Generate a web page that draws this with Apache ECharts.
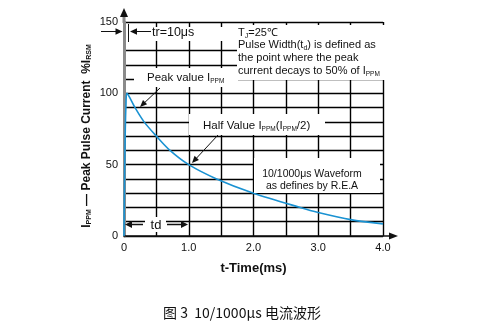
<!DOCTYPE html>
<html><head><meta charset="utf-8">
<script src="https://cdn.jsdelivr.net/npm/echarts@6/dist/echarts.min.js"></script>
<style>html,body{margin:0;padding:0;background:#fff}#c{width:477px;height:329px}</style>
</head><body><div id="c"></div>
<script>
// ---- data ----
const timeMs     = [0, 0.01, 0.02, 0.03, 0.045, 0.17, 0.31, 0.5, 0.71, 1.0, 1.43, 2.0, 2.72, 3.0, 3.5, 4.0];
const currentPct = [0, 45,   75,   91,   100,   90,   80,   70,  60,   50,  40,   30,  20,   16.5, 11.5, 8.5];
const xTickValues = [0, 1, 2, 3, 4];
const xTickLabels = ['0', '1.0', '2.0', '3.0', '4.0'];
const yTickValues = [0, 50, 100, 150];
const yTickLabels = ['0', '50', '100', '150'];

const FONT = 'Liberation Sans, Arial, sans-serif';
const chart = echarts.init(document.getElementById('c'));

function arrow(x1, y1, x2, y2, color, len, half, lw) {
  const dx = x2 - x1, dy = y2 - y1, d = Math.hypot(dx, dy);
  const ux = dx / d, uy = dy / d;
  const bx = x2 - ux * len, by = y2 - uy * len;
  return [
    { type: 'line', z: 20, shape: { x1, y1, x2: bx + ux, y2: by + uy }, style: { stroke: color, lineWidth: lw || 1 } },
    { type: 'polygon', z: 20, shape: { points: [[x2, y2], [bx - uy * half, by + ux * half], [bx + uy * half, by - ux * half]] }, style: { fill: color } }
  ];
}
function box(x, y, w, h) {
  return { type: 'rect', z: 15, shape: { x, y, width: w, height: h }, style: { fill: '#fff' } };
}
function txt(x, y, text, size, opts) {
  return Object.assign({ type: 'text', z: 25, x, y, style: Object.assign({
    text, font: (size) + 'px ' + FONT, fill: '#111', align: 'left', verticalAlign: 'middle'
  }, (opts && opts.style) || {}) }, (opts && opts.el) || {});
}
const sub = (fs) => ({ fontSize: fs, fontFamily: FONT, fill: '#111', verticalAlign: 'bottom', padding: [0, 0, -1, 0] });

const graphic = [
  // axis extensions with arrowheads
  { type: 'line', z: 20, shape: { x1: 124, y1: 23, x2: 124, y2: 16 }, style: { stroke: '#8a8a8a', lineWidth: 3 } },
  { type: 'polygon', z: 20, shape: { points: [[124, 8], [120, 17], [128, 17]] }, style: { fill: '#111' } },
  { type: 'line', z: 20, shape: { x1: 383, y1: 236, x2: 391, y2: 236 }, style: { stroke: '#111', lineWidth: 1.5 } },
  { type: 'polygon', z: 20, shape: { points: [[398, 236], [389, 232.5], [389, 239.5]] }, style: { fill: '#111' } },

  // white boxes covering grid
  box(126, 27, 111, 14),
  box(237, 25, 154, 55),
  box(134, 68, 104, 19),
  box(189, 114, 136, 21),
  box(254, 158, 126, 35),
  box(145, 217, 21, 15),

  // tr annotation
  ...arrow(101, 31.5, 122.5, 31.5, '#111', 7, 3.2),
  { type: 'line', z: 20, shape: { x1: 128.5, y1: 24, x2: 128.5, y2: 42 }, style: { stroke: '#111', lineWidth: 1 } },
  ...arrow(151, 31.5, 130, 31.5, '#111', 7, 3.2),
  txt(152, 33, 'tr=10μs', 12.5),

  // Tj box text
  {
    type: 'text', z: 25, x: 238, y: 33, style: {
      text: 'T{s|J}=25℃', font: '11px ' + FONT, fill: '#111', verticalAlign: 'middle',
      rich: { s: sub(7) }
    }
  },
  {
    type: 'text', z: 25, x: 238, y: 45, style: {
      text: 'Pulse Width(t{s|d}) is defined as', font: '11px ' + FONT, fill: '#111', verticalAlign: 'middle',
      rich: { s: sub(7) }
    }
  },
  txt(238, 58, 'the point where the peak', 11),
  {
    type: 'text', z: 25, x: 238, y: 71, style: {
      text: 'current decays to 50% of I{s|PPM}', font: '11px ' + FONT, fill: '#111', verticalAlign: 'middle',
      rich: { s: sub(6.5) }
    }
  },

  // Peak value
  {
    type: 'text', z: 25, x: 147, y: 78, style: {
      text: 'Peak value I{s|PPM}', font: '11.5px ' + FONT, fill: '#111', verticalAlign: 'middle',
      rich: { s: sub(6.5) }
    }
  },
  ...arrow(160, 88, 140, 107, '#111', 7, 3),

  // Half value
  {
    type: 'text', z: 25, x: 203, y: 126, style: {
      text: 'Half Value I{s|PPM}(I{s|PPM}/2)', font: '11.5px ' + FONT, fill: '#111', verticalAlign: 'middle',
      rich: { s: sub(6.5) }
    }
  },
  ...arrow(218, 135, 192, 163, '#111', 7, 3),

  // waveform note
  txt(312, 174, '10/1000μs Waveform', 10.5, { style: { align: 'center' } }),
  txt(312, 186, 'as defines by R.E.A', 10.5, { style: { align: 'center' } }),

  // td annotation
  ...arrow(143, 224.5, 125, 224.5, '#111', 7, 3.5, 1.5),
  ...arrow(167, 224.5, 188, 224.5, '#111', 7, 3.5, 1.5),
  txt(156, 225, 'td', 13, { style: { align: 'center' } }),

  // Y axis title
  {
    type: 'text', z: 25, x: 87, y: 136, rotation: Math.PI / 2, style: {
      text: '{b|I}{s|PPM}{b| — Peak Pulse Current  %I}{s|RSM}', fill: '#111', align: 'center', verticalAlign: 'middle',
      rich: {
        b: { fontSize: 12, fontWeight: 'bold', fontFamily: FONT, fill: '#111', verticalAlign: 'bottom' },
        s: { fontSize: 7, fontWeight: 'bold', fontFamily: FONT, fill: '#111', verticalAlign: 'bottom' }
      }
    }
  },

  // caption
  {
    type: 'text', z: 25, x: 242, y: 313, style: {
      text: '图 3  10/1000μs 电流波形', font: '14px "Noto Sans CJK SC", sans-serif', fill: '#111',
      align: 'center', verticalAlign: 'middle'
    }
  }
];

const option = {
  backgroundColor: '#fff',
  animation: false,
  grid: { left: 124, right: 94, top: 22, bottom: 93, containLabel: false },
  xAxis: {
    type: 'value', min: 0, max: 4, interval: 0.5,
    name: 't-Time(ms)', nameLocation: 'middle', nameGap: 26,
    nameTextStyle: { fontFamily: FONT, fontWeight: 'bold', fontSize: 13, color: '#111' },
    axisLine: { show: true, onZero: false, lineStyle: { color: '#111', width: 1.5 } },
    axisTick: { show: false },
    axisLabel: {
      margin: 6, fontFamily: FONT, fontSize: 11, color: '#111',
      formatter: v => { const i = xTickValues.indexOf(+v.toFixed(3)); return i >= 0 ? xTickLabels[i] : ''; }
    },
    splitLine: { show: true, lineStyle: { color: '#000', width: 1.4 } }
  },
  yAxis: {
    type: 'value', min: 0, max: 150, interval: 10,
    axisLine: { show: true, onZero: false, lineStyle: { color: '#8a8a8a', width: 3 } },
    axisTick: { show: false },
    axisLabel: {
      margin: 6, fontFamily: FONT, fontSize: 11, color: '#111',
      formatter: v => { const i = yTickValues.indexOf(v); return i >= 0 ? yTickLabels[i] : ''; }
    },
    splitLine: { show: true, lineStyle: { color: '#000', width: 1.4 } }
  },
  series: [{
    type: 'line',
    data: timeMs.map((t, i) => [t, currentPct[i]]),
    smooth: 0.3,
    showSymbol: false, symbol: 'none',
    lineStyle: { color: '#1a92d2', width: 1.6 },
    z: 5
  }],
  graphic
};
chart.setOption(option);
</script>
</body></html>
